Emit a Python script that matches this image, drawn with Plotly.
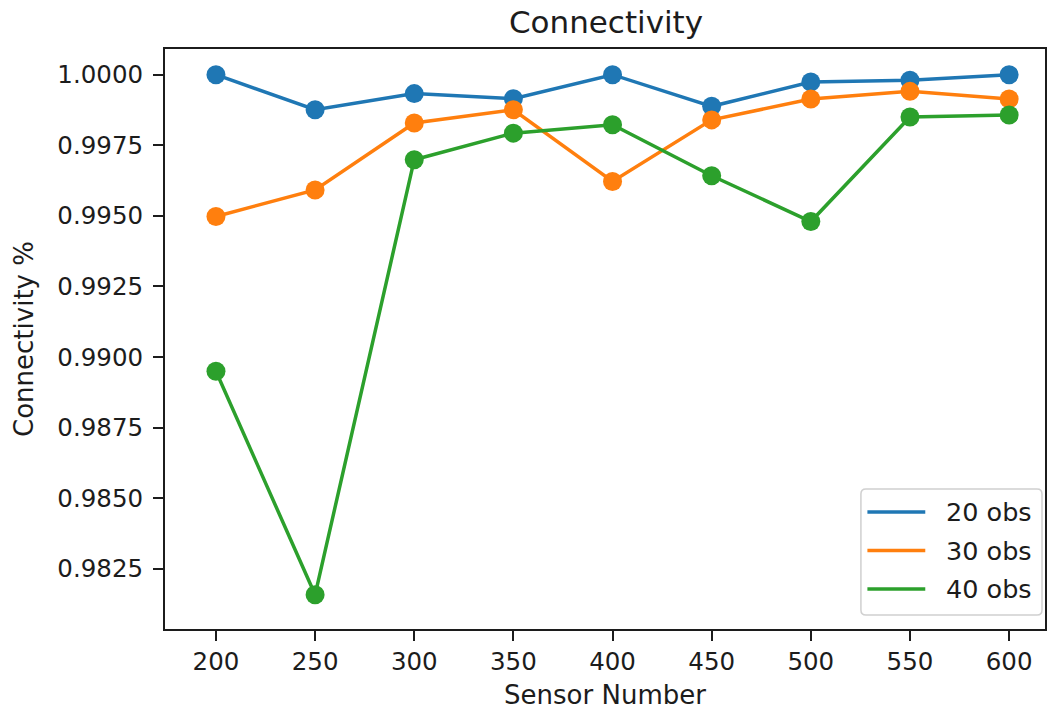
import plotly.graph_objects as go

# Sensor counts on the x axis
sensor_number = [200, 250, 300, 350, 400, 450, 500, 550, 600]

# Connectivity ratio for each obstacle count
obs20 = [1.0000, 0.99876, 0.99933, 0.99915, 1.0000, 0.99888, 0.99974, 0.99980, 1.0000]
obs30 = [0.99498, 0.99592, 0.99829, 0.99876, 0.99622, 0.99840, 0.99914, 0.99941, 0.99914]
obs40 = [0.98950, 0.98158, 0.99699, 0.99793, 0.99823, 0.99642, 0.99480, 0.99850, 0.99857]

series_names = ["20 obs", "30 obs", "40 obs"]
series_colors = ["#1f77b4", "#ff7f0e", "#2ca02c"]

y_ticks = [0.9825, 0.9850, 0.9875, 0.9900, 0.9925, 0.9950, 0.9975, 1.0000]

FONT = "DejaVu Sans"
TEXT = "#1c1c1c"

W, H = 1049, 711
ML, MR, MT, MB = 165, 2, 49, 82
PW, PH = W - ML - MR, H - MT - MB


def px_to_paper(px, py):
    """Pixel position in the page -> paper coordinates of the plot area."""
    return (px - ML) / PW, (H - MB - py) / PH


fig = go.Figure()
for name, color, values in zip(series_names, series_colors, [obs20, obs30, obs40]):
    # connecting line
    fig.add_trace(go.Scatter(
        x=sensor_number, y=values, mode="lines", name=name,
        line=dict(color=color, width=3.5), showlegend=False,
    ))
    # point markers on top of the line
    fig.add_trace(go.Scatter(
        x=sensor_number, y=values, mode="markers", showlegend=False,
        marker=dict(color=color, size=19, line=dict(width=0)),
        hoverinfo="skip",
    ))

# Legend box with rounded corners, drawn in the lower-right corner
shapes = []
annotations = []
x0, y1 = px_to_paper(862.5, 489)
x1, y0 = px_to_paper(1044, 615)
rx, ry = 5 / PW, 5 / PH
box = (f"M {x0 + rx},{y0} L {x1 - rx},{y0} Q {x1},{y0} {x1},{y0 + ry} "
       f"L {x1},{y1 - ry} Q {x1},{y1} {x1 - rx},{y1} "
       f"L {x0 + rx},{y1} Q {x0},{y1} {x0},{y1 - ry} "
       f"L {x0},{y0 + ry} Q {x0},{y0} {x0 + rx},{y0} Z")
shapes.append(dict(type="path", path=box, xref="paper", yref="paper",
                   fillcolor="rgba(255,255,255,0.8)",
                   line=dict(color="#d0d0d0", width=1.5), layer="above"))
for i, (name, color) in enumerate(zip(series_names, series_colors)):
    row_y = 512 + i * 38.5
    lx0, ly = px_to_paper(869, row_y)
    lx1, _ = px_to_paper(927, row_y)
    shapes.append(dict(type="line", xref="paper", yref="paper",
                       x0=lx0, x1=lx1, y0=ly, y1=ly,
                       line=dict(color=color, width=3.5), layer="above"))
    tx, _ = px_to_paper(946, row_y)
    annotations.append(dict(text=name, xref="paper", yref="paper", x=tx, y=ly,
                            xanchor="left", yanchor="middle", showarrow=False,
                            font=dict(family=FONT, size=25.5, color=TEXT)))

fig.update_layout(
    width=W, height=H,
    margin=dict(l=ML, r=MR, t=MT, b=MB),
    paper_bgcolor="white", plot_bgcolor="white",
    font=dict(family=FONT, size=24.5, color=TEXT),
    title=dict(text="Connectivity", x=(ML + W - MR) / 2 / W, xanchor="center",
               y=1 - 22 / H, yanchor="middle",
               font=dict(family=FONT, size=31, color=TEXT)),
    shapes=shapes,
    annotations=annotations,
    showlegend=False,
)

fig.update_xaxes(
    range=[174.3, 618.1],
    tickvals=sensor_number,
    ticks="outside", ticklen=10, tickwidth=1.5, tickcolor=TEXT,
    showline=True, linecolor=TEXT, linewidth=2, mirror=True,
    showgrid=False, zeroline=False,
    tickfont=dict(family=FONT, size=24.5, color=TEXT),
    title=dict(text="Sensor Number", standoff=10,
               font=dict(family=FONT, size=26, color=TEXT)),
)
fig.update_yaxes(
    range=[0.98037, 1.00091],
    tickvals=y_ticks, tickformat=".4f",
    ticks="outside", ticklen=10, tickwidth=1.5, tickcolor=TEXT,
    ticklabelstandoff=5,
    showline=True, linecolor=TEXT, linewidth=2, mirror=True,
    showgrid=False, zeroline=False,
    tickfont=dict(family=FONT, size=24.5, color=TEXT),
    title=dict(text="Connectivity %", standoff=16,
               font=dict(family=FONT, size=26, color=TEXT)),
)

fig.write_html("out.html")
